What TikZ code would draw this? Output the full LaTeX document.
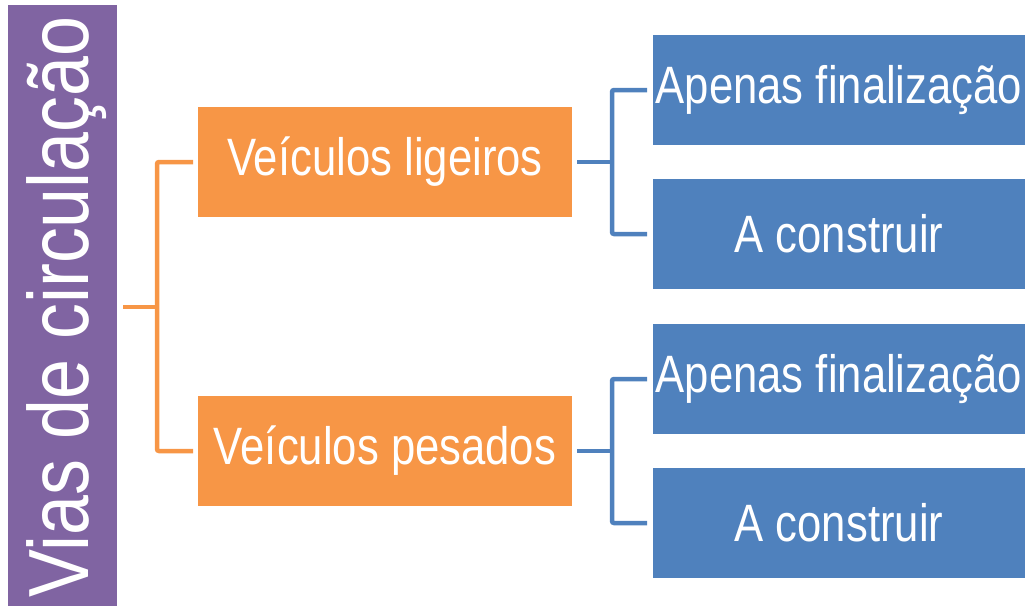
\documentclass[tikz,border=0pt]{standalone}
\usepackage{fontspec}
\setmainfont{Liberation Sans}
\newfontfamily\dfont[FakeStretch=0.83]{Liberation Sans}
\newfontfamily\vfont[FakeStretch=0.84]{Liberation Sans}
\definecolor{vpurple}{HTML}{8064A2}
\definecolor{vorange}{HTML}{F79646}
\definecolor{vblue}{HTML}{4F81BD}
\begin{document}
\begin{tikzpicture}[x=1pt,y=-1pt,
  box/.style={inner sep=0pt, outer sep=0pt, text=white, font=\dfont\fontsize{52.6}{60}\selectfont, anchor=north west},
  obox/.style={box, fill=vorange, minimum width=374pt, minimum height=110pt},
  bbox/.style={box, fill=vblue, minimum width=372pt, minimum height=110pt},
  oline/.style={draw=vorange, line width=4.5pt, rounded corners=2pt},
  bline/.style={draw=vblue, line width=4.5pt, rounded corners=2pt}]
\useasboundingbox (0,0) rectangle (1025,606);
\fill[vpurple] (8,5) rectangle (117,606);
\node[inner sep=0pt, rotate=90, anchor=base west, text=white, font=\vfont\fontsize{85.5}{90}\selectfont] (v) at (88,598) {Vias de circulação};
\coordinate (vr) at (117,307);
\node[obox] (o1) at (198,107) {Veículos ligeiros};
\node[obox] (o2) at (198,396) {Veículos pesados};
\node[bbox] (b1) at (653,35) {Apenas finalização};
\node[bbox] (b2) at (653,179) {A construir};
\node[bbox] (b3) at (653,324) {Apenas finalização};
\node[bbox] (b4) at (653,468) {A construir};
% orange bracket
\draw[oline] ([xshift=6pt]vr) -- ([xshift=40pt]vr);
\draw[oline] ([xshift=-5pt]o1.west) -- ([xshift=-41pt]o1.west) -- ([xshift=-41pt]o2.west) -- ([xshift=-5pt]o2.west);
% blue brackets
\draw[bline] ([xshift=5pt]o1.east) -- ([xshift=40pt]o1.east);
\draw[bline] ([xshift=-6pt]b1.west) -- ([xshift=-41pt]b1.west) -- ([xshift=-41pt]b2.west) -- ([xshift=-6pt]b2.west);
\draw[bline] ([xshift=5pt]o2.east) -- ([xshift=40pt]o2.east);
\draw[bline] ([xshift=-6pt]b3.west) -- ([xshift=-41pt]b3.west) -- ([xshift=-41pt]b4.west) -- ([xshift=-6pt]b4.west);
\end{tikzpicture}
\end{document}
